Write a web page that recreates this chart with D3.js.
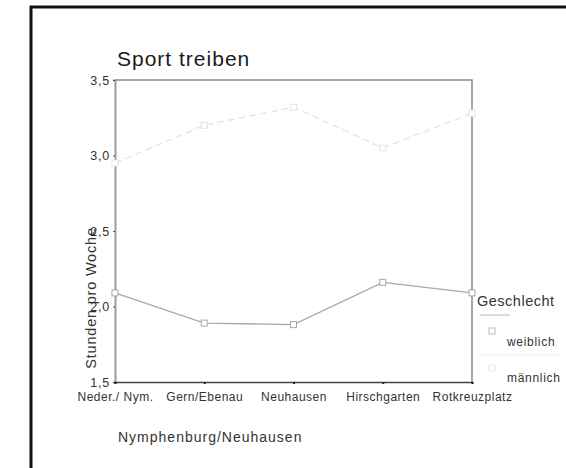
<!DOCTYPE html>
<html>
<head>
<meta charset="utf-8">
<script src="https://cdn.jsdelivr.net/npm/d3@7"></script>
<style>
  html, body { margin: 0; padding: 0; background: #fff; }
  svg { display: block; font-family: "Liberation Sans", Arial, sans-serif; }
</style>
</head>
<body>
<svg id="chart" width="566" height="468"></svg>
<script>
// Stadtteile (x-Achse)
const categories = ["Neder./ Nym.", "Gern/Ebenau", "Neuhausen", "Hirschgarten", "Rotkreuzplatz"];
// Mittlere Stunden pro Woche je Geschlecht
const weiblich = [2.09, 1.89, 1.88, 2.16, 2.09];
const maennlich = [2.95, 3.20, 3.32, 3.05, 3.28];
// Achsenbeschriftungen
const yTicks = [1.5, 2.0, 2.5, 3.0, 3.5];
const yTickLabels = ["1,5", "2,0", "2,5", "3,0", "3,5"];
const seriesNames = ["weiblich", "männlich"];

const svg = d3.select("#chart");

const plot = { left: 115, right: 472, top: 80, bottom: 382 };

const x = d3.scalePoint().domain(categories).range([plot.left, plot.right]).padding(0);
const y = d3.scaleLinear().domain([1.5, 3.5]).range([plot.bottom, plot.top]);

// Äußerer Rahmen
svg.append("rect")
  .attr("x", 31).attr("y", 7).attr("width", 600).attr("height", 500)
  .attr("fill", "none").attr("stroke", "#111").attr("stroke-width", 3);

// Titel
svg.append("text").attr("x", 117).attr("y", 66)
  .attr("font-size", 21).attr("letter-spacing", 1).attr("fill", "#1a1a1a")
  .text("Sport treiben");

// Rahmen oben und rechts
svg.append("path")
  .attr("d", `M${plot.left},${plot.top}H${plot.right}V${plot.bottom}`)
  .attr("fill", "none").attr("stroke", "#8a8a8a").attr("stroke-width", 1.5);

// y-Achse
const yAxis = d3.axisLeft(y).tickValues(yTicks)
  .tickFormat((d, i) => yTickLabels[i]).tickSize(2).tickPadding(3);
const gy = svg.append("g").attr("transform", `translate(${plot.left},0)`).call(yAxis);
gy.select(".domain").attr("stroke", "#9a9a9a").attr("stroke-width", 2);
gy.selectAll(".tick line").attr("stroke", "#555");
gy.selectAll(".tick text").attr("font-size", 12.5).attr("letter-spacing", 0.8)
  .attr("fill", "#333").attr("font-family", "Liberation Sans, Arial, sans-serif");

// x-Achse
const xAxis = d3.axisBottom(x).tickSize(2).tickPadding(8);
const gx = svg.append("g").attr("transform", `translate(0,${plot.bottom})`).call(xAxis);
gx.select(".domain").attr("stroke", "#444").attr("stroke-width", 1.6);
gx.selectAll(".tick line").attr("stroke", "#222").attr("stroke-width", 2);
gx.selectAll(".tick text").attr("font-size", 12).attr("letter-spacing", 0.5)
  .attr("fill", "#333").attr("font-family", "Liberation Sans, Arial, sans-serif");

// Achsentitel
svg.append("text").attr("x", 118).attr("y", 442)
  .attr("font-size", 14).attr("letter-spacing", 1).attr("fill", "#333")
  .text("Nymphenburg/Neuhausen");
svg.append("text")
  .attr("transform", "translate(96,298) rotate(-90)")
  .attr("text-anchor", "middle").attr("font-size", 14.5).attr("letter-spacing", 0.8)
  .attr("fill", "#333").text("Stunden pro Woche");

// Linien
const line = d3.line().x((d, i) => x(categories[i])).y(d => y(d));
const styles = [
  { data: weiblich, stroke: "#a8a8a8", dash: null },
  { data: maennlich, stroke: "#e4e4e4", dash: "7,4" }
];
styles.forEach(s => {
  svg.append("path").datum(s.data)
    .attr("d", line).attr("fill", "none")
    .attr("stroke", s.stroke).attr("stroke-width", 1.3)
    .attr("stroke-dasharray", s.dash);
  svg.selectAll(null).data(s.data).enter().append("rect")
    .attr("x", (d, i) => x(categories[i]) - 3)
    .attr("y", d => y(d) - 3)
    .attr("width", 6).attr("height", 6)
    .attr("fill", "#fff").attr("stroke", s.stroke).attr("stroke-width", 1);
});

// Legende
svg.append("text").attr("x", 477).attr("y", 306)
  .attr("font-size", 14.5).attr("letter-spacing", 0.5).attr("fill", "#333")
  .text("Geschlecht");
svg.append("line").attr("x1", 480).attr("x2", 510).attr("y1", 315).attr("y2", 315)
  .attr("stroke", "#bbb").attr("stroke-width", 1);
svg.append("line").attr("x1", 480).attr("x2", 560).attr("y1", 355).attr("y2", 355)
  .attr("stroke", "#f0f0f0").attr("stroke-width", 1);
const legY = [331, 368];
const legText = [346, 382];
seriesNames.forEach((name, i) => {
  svg.append("rect").attr("x", 489).attr("y", legY[i] - 3)
    .attr("width", 6).attr("height", 6)
    .attr("fill", "#fff").attr("stroke", i === 0 ? "#bcbcbc" : "#ececec");
  svg.append("text").attr("x", 507).attr("y", legText[i])
    .attr("font-size", 12).attr("letter-spacing", 0.7).attr("fill", "#333").text(name);
});
</script>
</body>
</html>
